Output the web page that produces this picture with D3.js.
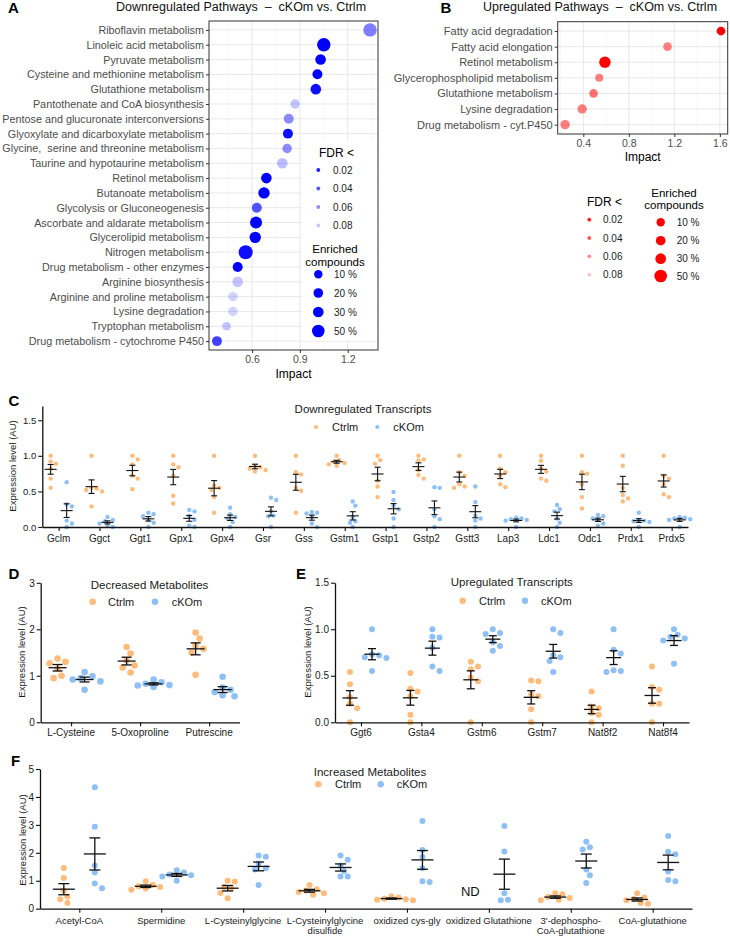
<!DOCTYPE html>
<html><head><meta charset="utf-8">
<script src="https://cdn.jsdelivr.net/npm/d3@7"></script>
<style>
body{margin:0;background:#fff}
svg{display:block}
text{font-family:"Liberation Sans",Arial,Helvetica,sans-serif;white-space:pre}
</style>
</head><body>
<svg id="fig" width="730" height="936"></svg>
<script>
// ---------------- DATA ----------------
const pathwaysDown = ["Riboflavin metabolism","Linoleic acid metabolism","Pyruvate metabolism","Cysteine and methionine metabolism","Glutathione metabolism","Pantothenate and CoA biosynthesis","Pentose and glucuronate interconversions","Glyoxylate and dicarboxylate metabolism","Glycine,  serine and threonine metabolism","Taurine and hypotaurine metabolism","Retinol metabolism","Butanoate metabolism","Glycolysis or Gluconeogenesis","Ascorbate and aldarate metabolism","Glycerolipid metabolism","Nitrogen metabolism","Drug metabolism - other enzymes","Arginine biosynthesis","Arginine and proline metabolism","Lysine degradation","Tryptophan metabolism","Drug metabolism - cytochrome P450"];
const impactDown = [1.34,1.05,1.03,1.01,1.0,0.87,0.83,0.825,0.82,0.79,0.69,0.675,0.63,0.625,0.62,0.56,0.51,0.51,0.48,0.48,0.44,0.38];
const fdrDown = [0.055,0.01,0.01,0.01,0.015,0.08,0.06,0.015,0.06,0.077,0.01,0.01,0.04,0.01,0.01,0.015,0.01,0.08,0.085,0.085,0.08,0.033];
const enrichDown = [60,60,29,23,29,18,23,23,18,29,29,37,23,43,37,67,23,29,18,18,12,23];

const pathwaysUp = ["Fatty acid degradation","Fatty acid elongation","Retinol metabolism","Glycerophospholipid metabolism","Glutathione metabolism","Lysine degradation","Drug metabolism - cyt.P450"];
const impactUp = [1.61,1.14,0.59,0.54,0.49,0.39,0.24];
const fdrUp = [0.01,0.055,0.01,0.055,0.05,0.055,0.055];
const enrichUp = [12,12,37,7,12,18,18];

const fdrLegend = [0.02,0.04,0.06,0.08];
const enrichLegend = [10,20,30,50];
const impactTicksA = [0.6,0.9,1.2];
const impactMinorA = [0.45,0.75,1.05,1.35];
const impactTicksB = [0.4,0.8,1.2,1.6];
const impactMinorB = [0.2,0.6,1.0,1.4];

const transcriptsDown = ["Gclm","Ggct","Ggt1","Gpx1","Gpx4","Gsr","Gss","Gstm1","Gstp1","Gstp2","Gstt3","Lap3","Ldc1","Odc1","Prdx1","Prdx5"];
const downCtrlm = [
 [1.0,0.92,0.89,0.82,0.68,0.55],[1.0,0.55,0.54,0.52,0.5,0.29],[1.0,0.95,0.88,0.72,0.68,0.53],
 [1.0,0.88,0.84,0.72,0.44,0.33],[1.0,0.58,0.55,0.52,0.42,0.2],[1.0,0.86,0.84,0.82,0.8,0.78],
 [1.0,0.77,0.74,0.55,0.51,0.2],[1.0,0.94,0.92,0.9,0.88,0.86],[1.0,0.94,0.89,0.65,0.57,0.42],
 [1.0,0.95,0.93,0.8,0.73,0.68],[1.0,0.77,0.72,0.6,0.57,0.55],[1.0,0.82,0.77,0.72,0.6,0.56],
 [1.0,0.93,0.82,0.78,0.68,0.65],[1.0,0.77,0.75,0.6,0.42,0.26],[1.0,0.86,0.55,0.45,0.4,0.36],
 [1.0,0.72,0.68,0.6,0.46,0.42]];
const downCKOm = [
 [0.63,0.32,0.29,0.09,0.05,0.0],[0.14,0.1,0.08,0.05,0.02,0.0],[0.2,0.18,0.15,0.1,0.06,0.0],
 [0.24,0.22,0.15,0.1,0.02,0.0],[0.27,0.18,0.14,0.12,0.07,0.0],[0.41,0.38,0.22,0.16,0.15,0.0],
 [0.21,0.2,0.19,0.14,0.05,0.0],[0.36,0.3,0.14,0.08,0.06,0.0],[0.49,0.38,0.3,0.25,0.12,0.0],
 [0.56,0.55,0.25,0.15,0.11,0.0],[0.57,0.35,0.16,0.12,0.09,0.0],[0.13,0.12,0.11,0.1,0.09,0.0],
 [0.31,0.25,0.22,0.12,0.06,0.0],[0.17,0.15,0.12,0.1,0.05,0.02],[0.2,0.1,0.09,0.08,0.07,0.0],
 [0.14,0.13,0.12,0.11,0.1,0.0]];
const yTicksC = [0,0.5,1.0,1.5];

const metabolitesDec = ["L-Cysteine","5-Oxoproline","Putrescine"];
const decCtrlm = [[1.37,1.3,1.27,1.15,1.0,0.95],[1.62,1.48,1.33,1.22,1.18,1.07],[1.93,1.8,1.65,1.58,1.5,1.02]];
const decCKOm = [[1.08,0.99,0.95,0.92,0.88,0.7],[0.92,0.86,0.83,0.8,0.79,0.76],[0.98,0.75,0.7,0.65,0.58,0.56]];
const yTicksD = [0,1,2,3];

const transcriptsUp = ["Ggt6","Gsta4","Gstm6","Gstm7","Nat8f2","Nat8f4"];
const upCtrlm = [[0.54,0.41,0.27,0.2,0.15,0.0],[0.53,0.36,0.33,0.28,0.08,0.0],[0.65,0.6,0.57,0.48,0.44,0.0],
 [0.45,0.44,0.3,0.28,0.14,0.0],[0.33,0.17,0.15,0.1,0.08,0.0],[0.6,0.38,0.35,0.2,0.2,0.0]];
const upCKOm = [[1.0,0.73,0.72,0.7,0.69,0.55],[1.0,0.92,0.91,0.8,0.6,0.55],[1.0,0.96,0.95,0.86,0.82,0.77],
 [1.0,0.96,0.72,0.7,0.66,0.54],[1.0,0.78,0.74,0.56,0.55,0.54],[1.0,0.94,0.92,0.9,0.88,0.63]];
const yTicksE = [0,0.5,1.0,1.5];

const metabolitesInc = ["Acetyl-CoA","Spermidine","L-Cysteinylglycine","L-Cysteinylglycine\ndisulfide","oxidized cys-gly","oxidized Glutathione","3'-dephospho-\nCoA-glutathione","CoA-glutathione"];
const incCtrlm = [[1.46,1.1,0.65,0.44,0.34,0.2],[0.98,0.85,0.8,0.78,0.72,0.68],[1.0,0.97,0.78,0.72,0.56,0.37],
 [0.85,0.7,0.65,0.6,0.55,0.5],[0.45,0.4,0.36,0.34,0.32,0.3],null,[0.55,0.52,0.42,0.38,0.32,0.3],[0.55,0.4,0.35,0.3,0.2,0.18]];
const incCKOm = [[4.35,2.93,1.55,1.3,0.9,0.73],[1.38,1.3,1.22,1.2,1.15,1.0],[1.9,1.86,1.62,1.45,1.4,0.85],
 [1.9,1.75,1.55,1.35,1.15,1.15],[3.14,2.1,1.85,1.45,0.98,0.96],[2.96,2.05,0.55,0.32,0.3],
 [2.4,2.2,2.12,1.4,1.2,0.92],[2.6,2.04,1.95,1.33,1.03,0.98]];
const yTicksF = [0,1,2,3,4,5];

const groupNames = ["Ctrlm","cKOm"];

// ---------------- STYLE ----------------
const ORANGE = "#FDBC7B", LBLUE = "#8EC0F6";
const svg = d3.select("#fig");

const areaScale = d3.scaleLinear().domain([10,50]).range([17.6,39.7]);
const rScale = p => Math.sqrt(areaScale(p));
const alphaScale = d3.scaleLinear().domain([0.01,0.09]).range([1,0.12]).clamp(true);

function txt(g, x, y, s, o={}) {
  return g.append("text").attr("x",x).attr("y",y).text(s)
    .attr("font-size",o.size||11).attr("fill",o.fill||"#111")
    .attr("text-anchor",o.anchor||"start").attr("dominant-baseline","central")
    .attr("font-weight",o.weight||"normal");
}

// panel letters
[["A",13.5,7],["B",446,7],["C",14,400],["D",14,573],["E",301,573],["F",15.5,760]].forEach(([l,x,y]) =>
  txt(svg,x,y,l,{size:15,weight:"bold",anchor:"middle",fill:"#000"}));

// ---------------- BUBBLE PANELS ----------------
function bubblePanel(o) {
  const g = svg.append("g");
  const x = d3.scaleLinear().domain(o.xDomain).range(o.xRange);
  const y = d3.scalePoint().domain(o.cats).range(o.yRange).padding(0.6);
  const [x0,x1] = o.xRange, [y0,y1] = o.yRange;
  g.append("rect").attr("x",x0).attr("y",y0).attr("width",x1-x0).attr("height",y1-y0).attr("fill","#fff");
  g.selectAll("line.mn").data(o.minor).join("line").attr("class","mn")
    .attr("x1",d=>x(d)).attr("x2",d=>x(d)).attr("y1",y0).attr("y2",y1).attr("stroke","#f3f3f3").attr("stroke-width",0.6);
  g.selectAll("line.mj").data(o.ticks).join("line").attr("class","mj")
    .attr("x1",d=>x(d)).attr("x2",d=>x(d)).attr("y1",y0).attr("y2",y1).attr("stroke","#e8e8e8").attr("stroke-width",1);
  g.selectAll("line.hy").data(o.cats).join("line").attr("class","hy")
    .attr("x1",x0).attr("x2",x1).attr("y1",d=>y(d)).attr("y2",d=>y(d)).attr("stroke","#e8e8e8").attr("stroke-width",1);
  if (o.legendBox) {
    const b = o.legendBox;
    g.append("rect").attr("x",b[0]).attr("y",b[1]).attr("width",b[2]).attr("height",b[3]).attr("fill","#fff");
  }
  const rows = o.cats.map((c,i)=>({c, imp:o.impact[i], fdr:o.fdr[i], en:o.enrich[i]}));
  g.selectAll("circle.pt").data(rows).join("circle").attr("class","pt")
    .attr("cx",d=>x(d.imp)).attr("cy",d=>y(d.c)).attr("r",d=>rScale(d.en))
    .attr("fill",o.color).attr("fill-opacity",d=>alphaScale(d.fdr));
  g.append("rect").attr("x",x0).attr("y",y0).attr("width",x1-x0).attr("height",y1-y0)
    .attr("fill","none").attr("stroke","#333").attr("stroke-width",1);
  const ya = g.append("g").attr("transform",`translate(${x0},0)`).call(d3.axisLeft(y).tickSize(3).tickPadding(2));
  ya.select(".domain").remove();
  ya.selectAll(".tick line").attr("stroke","#333");
  ya.selectAll(".tick text").attr("fill","#4d4d4d").attr("font-size",o.labelSize).style("white-space","pre");
  const xa = g.append("g").attr("transform",`translate(0,${y1})`)
    .call(d3.axisBottom(x).tickValues(o.ticks).tickSize(3).tickPadding(3).tickFormat(d3.format(".1f")));
  xa.select(".domain").remove();
  xa.selectAll(".tick line").attr("stroke","#333");
  xa.selectAll(".tick text").attr("fill","#4d4d4d").attr("font-size",10.5);
  txt(g,(x0+x1)/2,o.xTitleY,"Impact",{size:12,anchor:"middle",fill:"#000"});
  txt(g,o.titleX,7,o.title,{size:12.5,anchor:"middle",fill:"#111"});
  // legends
  const L = o.legend;
  txt(g,L.fdrTitle[0],L.fdrTitle[1],"FDR <",{size:12,fill:"#000"});
  fdrLegend.forEach((f,i)=>{
    g.append("circle").attr("cx",L.fdrDotX).attr("cy",L.fdrY[i]).attr("r",1.9).attr("fill",o.color).attr("fill-opacity",alphaScale(f));
    txt(g,L.fdrTextX,L.fdrY[i],f.toFixed(2),{size:10,fill:"#222"});
  });
  txt(g,L.enTitle[0],L.enTitle[1],"Enriched",{size:11.5,anchor:"middle",fill:"#000"});
  txt(g,L.enTitle[0],L.enTitle[1]+12.5,"compounds",{size:11.5,anchor:"middle",fill:"#000"});
  enrichLegend.forEach((p,i)=>{
    g.append("circle").attr("cx",L.enDotX).attr("cy",L.enY[i]).attr("r",rScale(p)).attr("fill",o.color);
    txt(g,L.enTextX,L.enY[i],p+" %",{size:10,fill:"#222"});
  });
}

bubblePanel({
  cats:pathwaysDown, impact:impactDown, fdr:fdrDown, enrich:enrichDown, color:"#0000FF",
  xDomain:[0.33,1.39], xRange:[209,378], yRange:[21,350], ticks:impactTicksA, minor:impactMinorA,
  labelSize:10.8, xTitleY:373.5, title:"Downregulated Pathways  \u2013  cKOm vs. Ctrlm", titleX:241,
  legendBox:[302,141,75,200],
  legend:{fdrTitle:[319,153], fdrDotX:318.3, fdrTextX:333, fdrY:[170,188.5,207,225.5],
          enTitle:[335,249], enDotX:318.3, enTextX:334, enY:[274.3,293,312,331]}
});
bubblePanel({
  cats:pathwaysUp, impact:impactUp, fdr:fdrUp, enrich:enrichUp, color:"#FF0000",
  xDomain:[0.175,1.669], xRange:[557.7,727.7], yRange:[21.7,134], ticks:impactTicksB, minor:impactMinorB,
  labelSize:11, xTitleY:156.7, title:"Upregulated Pathways  \u2013  cKOm vs. Ctrlm", titleX:600,
  legend:{fdrTitle:[587,201.7], fdrDotX:589.3, fdrTextX:603, fdrY:[219.7,238,256.3,274.7],
          enTitle:[674,192.5], enDotX:660.7, enTextX:676.7, enY:[222.3,240.7,258.7,276]}
});

// ---------------- DOT PANELS ----------------
function swarm(vals, cx, y, r) {
  const pts = vals.map(v=>({v, py:y(v)})).sort((a,b)=>a.py-b.py);
  const placed = [];
  const d = r*2.15;
  for (const p of pts) {
    for (let k=0;k<14;k++) {
      const off = k===0 ? 0 : (k%2 ? 1 : -1)*Math.ceil(k/2)*r*1.2;
      const px = cx+off;
      if (placed.every(q=>Math.hypot(q.px-px,q.py-p.py)>=d)) { p.px = px; break; }
    }
    if (p.px===undefined) p.px = cx;
    placed.push(p);
  }
  return placed;
}

function dotPanel(o) {
  const g = svg.append("g");
  const x = d3.scalePoint().domain(o.cats).range(o.xRange).padding(o.pad);
  const y = d3.scaleLinear().domain(o.yDomain).range(o.yRange);
  const sets = [{data:o.ctrl, off:-o.off, color:ORANGE},{data:o.cko, off:o.off, color:LBLUE}];
  sets.forEach(s => {
    o.cats.forEach((c,i) => {
      const vals = s.data[i];
      if (!vals) return;
      const pts = swarm(vals, x(c)+s.off, y, o.r);
      g.selectAll(null).data(pts).join("circle")
        .attr("cx",d=>d.px).attr("cy",d=>d.py).attr("r",o.r).attr("fill",s.color);
    });
  });
  sets.forEach(s => {
    o.cats.forEach((c,i) => {
      const vals = s.data[i];
      if (!vals) return;
      const cx = x(c)+s.off;
      const m = d3.mean(vals), se = d3.deviation(vals)/Math.sqrt(vals.length);
      const eb = g.append("g").attr("stroke","#111").attr("stroke-width",o.sw).attr("fill","none");
      eb.append("line").attr("x1",cx-o.mhw).attr("x2",cx+o.mhw).attr("y1",y(m)).attr("y2",y(m));
      eb.append("line").attr("x1",cx).attr("x2",cx).attr("y1",y(m-se)).attr("y2",y(m+se));
      eb.append("line").attr("x1",cx-o.chw).attr("x2",cx+o.chw).attr("y1",y(m-se)).attr("y2",y(m-se));
      eb.append("line").attr("x1",cx-o.chw).attr("x2",cx+o.chw).attr("y1",y(m+se)).attr("y2",y(m+se));
    });
  });
  // axes
  const xa = g.append("g").attr("transform",`translate(0,${o.yRange[0]})`)
    .call(d3.axisBottom(x).tickSize(4).tickSizeOuter(0).tickFormat(()=>""));
  xa.select(".domain").attr("stroke","#111").attr("stroke-width",1.3);
  xa.selectAll(".tick line").attr("stroke","#111").attr("stroke-width",1.1);
  o.cats.forEach(c => {
    const lines = c.split("\n");
    lines.forEach((ln,j) => txt(g, x(c), o.yRange[0]+o.xLabOff+j*10.5, ln, {size:o.xLabSize, anchor:"middle", fill:"#1a1a1a"}));
  });
  const ya = g.append("g").attr("transform",`translate(${o.xRange[0]},0)`)
    .call(d3.axisLeft(y).tickValues(o.yTicks).tickSize(4).tickSizeOuter(0).tickPadding(2).tickFormat(o.fmt));
  ya.select(".domain").attr("stroke","#111").attr("stroke-width",1.3);
  ya.selectAll(".tick line").attr("stroke","#111").attr("stroke-width",1.1);
  ya.selectAll(".tick text").attr("fill","#1a1a1a").attr("font-size",o.yTickSize);
  g.append("text").attr("transform",`translate(${o.yLab[0]},${o.yLab[1]}) rotate(-90)`)
    .attr("text-anchor","middle").attr("dominant-baseline","central").attr("font-size",9.5).attr("fill","#1a1a1a")
    .text("Expression level (AU)");
  txt(g,o.title[0],o.title[1],o.title[2],{size:o.titleSize,anchor:"middle",fill:"#1a1a1a"});
  const L = o.leg;
  groupNames.forEach((nm,i) => {
    g.append("circle").attr("cx",L.dots[i]).attr("cy",L.y).attr("r",o.legR).attr("fill",i? LBLUE:ORANGE);
    txt(g,L.texts[i],L.y,nm,{size:11,fill:"#1a1a1a"});
  });
  return {g,x,y};
}

dotPanel({
  cats:transcriptsDown, ctrl:downCtrlm, cko:downCKOm, xRange:[42.3,688], pad:0.4,
  yDomain:[0,1.7], yRange:[527,406], yTicks:yTicksC, fmt:d3.format(".1f"),
  off:8, r:2.2, mhw:6, chw:3, sw:1.1, xLabOff:11, xLabSize:10, yTickSize:9.5,
  yLab:[12.5,466], title:[363,409,"Downregulated Transcripts"], titleSize:11.5,
  leg:{y:427, dots:[316,377.3], texts:[332,393.3]}, legR:2.1
});
dotPanel({
  cats:metabolitesDec, ctrl:decCtrlm, cko:decCKOm, xRange:[40.7,239.5], pad:0.44,
  yDomain:[0,3], yRange:[722.3,582.8], yTicks:yTicksD, fmt:d3.format("d"),
  off:13.5, r:3.3, mhw:9, chw:5, sw:1.3, xLabOff:10.5, xLabSize:10, yTickSize:10,
  yLab:[21,652], title:[149.5,585.3,"Decreased Metabolites"], titleSize:11.5,
  leg:{y:601.7, dots:[92.7,155], texts:[108,171.7]}, legR:3.3
});
dotPanel({
  cats:transcriptsUp, ctrl:upCtrlm, cko:upCKOm, xRange:[335,689], pad:0.43,
  yDomain:[0,1.5], yRange:[722.3,582.7], yTicks:yTicksE, fmt:d3.format(".1f"),
  off:11, r:3, mhw:7.5, chw:4, sw:1.3, xLabOff:10.5, xLabSize:10, yTickSize:10,
  yLab:[307,652], title:[511.8,581.7,"Upregulated Transcripts"], titleSize:11.5,
  leg:{y:600.7, dots:[462.7,525], texts:[479,541]}, legR:3.2
});
const F = dotPanel({
  cats:metabolitesInc, ctrl:incCtrlm, cko:incCKOm, xRange:[40,692], pad:0.48,
  yDomain:[0,5], yRange:[908.7,769], yTicks:yTicksF, fmt:d3.format("d"),
  off:15.5, r:3, mhw:11, chw:5.5, sw:1.3, xLabOff:11.3, xLabSize:9.5, yTickSize:10,
  yLab:[22.5,840], title:[370,771.7,"Increased Metabolites"], titleSize:11.5,
  leg:{y:784.3, dots:[318.3,380.7], texts:[335,396.7]}, legR:3.2
});
// ND marker for missing Ctrlm group
txt(F.g, F.x("oxidized Glutathione")-15.5-3, F.y(0.6), "ND", {size:13, anchor:"middle", fill:"#111"});
</script>
</body></html>
